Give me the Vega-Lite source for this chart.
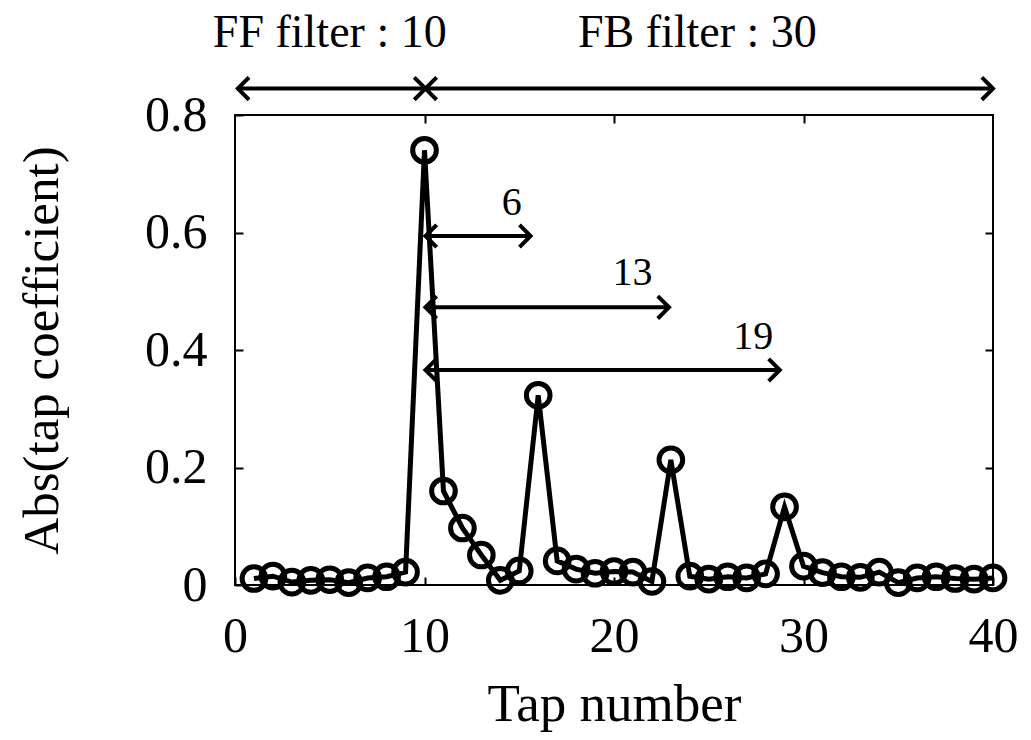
{
  "$schema": "https://vega.github.io/schema/vega-lite/v6.json",
  "width": 758,
  "height": 470,
  "autosize": {"type": "none"},
  "padding": {"left": 235, "top": 115, "right": 38, "bottom": 155},
  "background": "white",
  "config": {
    "view": {"stroke": "black", "strokeWidth": 2},
    "font": "Liberation Serif",
    "axis": {
      "grid": false,
      "domain": false,
      "tickColor": "black",
      "tickWidth": 2,
      "tickSize": -8,
      "labelColor": "black",
      "labelFont": "Liberation Serif",
      "labelFontSize": 50,
      "labelFlush": false,
      "labelOverlap": false,
      "titleColor": "black",
      "titleFont": "Liberation Serif",
      "titleFontSize": 51,
      "titleFontWeight": "normal"
    }
  },
  "datasets": {
    "taps": [
      {"tap": 1, "coef": 0.011}, {"tap": 2, "coef": 0.015}, {"tap": 3, "coef": 0.005}, {"tap": 4, "coef": 0.008},
      {"tap": 5, "coef": 0.009}, {"tap": 6, "coef": 0.004}, {"tap": 7, "coef": 0.012}, {"tap": 8, "coef": 0.014},
      {"tap": 9, "coef": 0.022}, {"tap": 10, "coef": 0.740}, {"tap": 11, "coef": 0.160}, {"tap": 12, "coef": 0.097},
      {"tap": 13, "coef": 0.051}, {"tap": 14, "coef": 0.008}, {"tap": 15, "coef": 0.024}, {"tap": 16, "coef": 0.323},
      {"tap": 17, "coef": 0.041}, {"tap": 18, "coef": 0.027}, {"tap": 19, "coef": 0.020}, {"tap": 20, "coef": 0.023},
      {"tap": 21, "coef": 0.022}, {"tap": 22, "coef": 0.006}, {"tap": 23, "coef": 0.213}, {"tap": 24, "coef": 0.015},
      {"tap": 25, "coef": 0.010}, {"tap": 26, "coef": 0.014}, {"tap": 27, "coef": 0.012}, {"tap": 28, "coef": 0.019},
      {"tap": 29, "coef": 0.133}, {"tap": 30, "coef": 0.032}, {"tap": 31, "coef": 0.021}, {"tap": 32, "coef": 0.014},
      {"tap": 33, "coef": 0.013}, {"tap": 34, "coef": 0.022}, {"tap": 35, "coef": 0.004}, {"tap": 36, "coef": 0.012},
      {"tap": 37, "coef": 0.014}, {"tap": 38, "coef": 0.011}, {"tap": 39, "coef": 0.010}, {"tap": 40, "coef": 0.012}
    ],
    "arrows": [
      {"from": 0.15, "to": 10.05, "level": 0.845},
      {"from": 10.05, "to": 40, "level": 0.845},
      {"from": 10.05, "to": 15.6, "level": 0.594},
      {"from": 10.05, "to": 22.9, "level": 0.4726},
      {"from": 10.05, "to": 28.75, "level": 0.366}
    ],
    "labels": [
      {"px": 5.0, "py": 0.916, "text": "FF filter : 10", "group": "filter"},
      {"px": 24.4, "py": 0.916, "text": "FB filter : 30", "group": "filter"},
      {"px": 14.6, "py": 0.63, "text": "6", "group": "delay"},
      {"px": 20.97, "py": 0.5106, "text": "13", "group": "delay"},
      {"px": 27.35, "py": 0.401, "text": "19", "group": "delay"}
    ]
  },
  "resolve": {"axis": {"x": "independent", "y": "independent"}},
  "layer": [
    {
      "data": {"name": "taps"},
      "mark": {"type": "line", "color": "black", "strokeWidth": 5},
      "encoding": {
        "x": {"field": "tap", "type": "quantitative", "scale": {"domain": [0, 40], "nice": false, "zero": false},
              "axis": {"orient": "bottom", "values": [0, 10, 20, 30, 40], "format": "d", "labelPadding": 34, "title": "Tap number", "titlePadding": 17, "titleFontSize": 53}},
        "y": {"field": "coef", "type": "quantitative", "scale": {"domain": [0, 0.8], "nice": false},
              "axis": {"orient": "left", "values": [0, 0.2, 0.4, 0.6, 0.8], "format": ".1~f", "labelPadding": 36, "title": "Abs(tap coefficient)", "titlePadding": 76}}
      }
    },
    {
      "data": {"name": "taps"},
      "mark": {"type": "point", "shape": "circle", "filled": false, "color": "black", "opacity": 1, "size": 560, "strokeWidth": 5},
      "encoding": {
        "x": {"field": "tap", "type": "quantitative", "axis": {"orient": "top", "values": [10, 20, 30], "labels": false, "title": null}},
        "y": {"field": "coef", "type": "quantitative", "axis": {"orient": "right", "values": [0.2, 0.4, 0.6], "labels": false, "title": null}}
      }
    },
    {
      "data": {"name": "arrows"},
      "mark": {"type": "rule", "color": "black", "strokeWidth": 4},
      "encoding": {
        "x": {"field": "from", "type": "quantitative", "axis": null},
        "x2": {"field": "to"},
        "y": {"field": "level", "type": "quantitative", "axis": null}
      }
    },
    {
      "data": {"name": "arrows"},
      "mark": {"type": "point", "shape": "M 1 -1 L 0 0 L 1 1", "filled": false, "color": "black", "opacity": 1, "size": 500, "strokeWidth": 4},
      "encoding": {
        "x": {"field": "from", "type": "quantitative", "axis": null},
        "y": {"field": "level", "type": "quantitative", "axis": null}
      }
    },
    {
      "data": {"name": "arrows"},
      "mark": {"type": "point", "shape": "M -1 -1 L 0 0 L -1 1", "filled": false, "color": "black", "opacity": 1, "size": 500, "strokeWidth": 4},
      "encoding": {
        "x": {"field": "to", "type": "quantitative", "axis": null},
        "y": {"field": "level", "type": "quantitative", "axis": null}
      }
    },
    {
      "data": {"name": "labels"},
      "transform": [{"filter": "datum.group === 'filter'"}],
      "mark": {"type": "text", "font": "Liberation Serif", "fontSize": 46, "color": "black", "align": "center", "baseline": "alphabetic"},
      "encoding": {
        "x": {"field": "px", "type": "quantitative", "axis": null},
        "y": {"field": "py", "type": "quantitative", "axis": null},
        "text": {"field": "text"}
      }
    },
    {
      "data": {"name": "labels"},
      "transform": [{"filter": "datum.group === 'delay'"}],
      "mark": {"type": "text", "font": "Liberation Serif", "fontSize": 40, "color": "black", "align": "center", "baseline": "alphabetic"},
      "encoding": {
        "x": {"field": "px", "type": "quantitative", "axis": null},
        "y": {"field": "py", "type": "quantitative", "axis": null},
        "text": {"field": "text"}
      }
    }
  ]
}
